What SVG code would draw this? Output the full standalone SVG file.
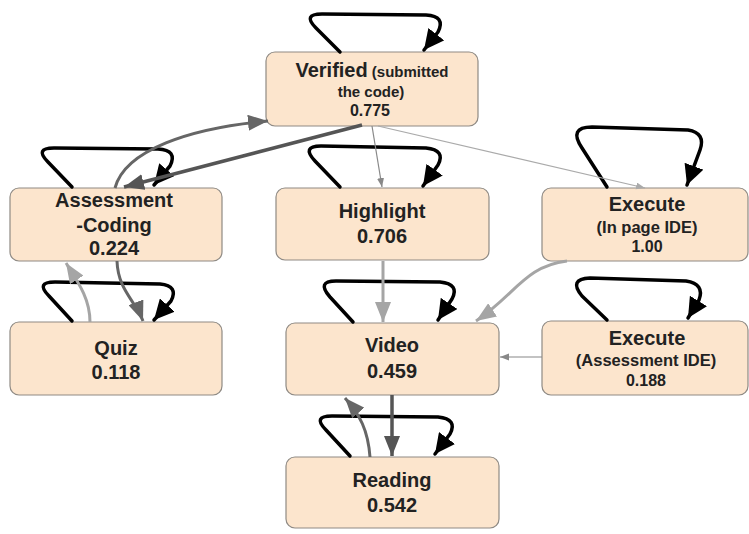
<svg xmlns="http://www.w3.org/2000/svg" width="749" height="534" viewBox="0 0 749 534">
<style>
.box{fill:#fce5cd;stroke:#8f8a84;stroke-width:1.2}
.t{font-family:"Liberation Sans",Arial,sans-serif;font-weight:bold;fill:#222;text-anchor:middle}
.big{font-size:20px}
.sm{font-size:15px}
.md{font-size:16px}
.loop{fill:none;stroke:#000;stroke-width:3.5;stroke-linejoin:round;stroke-linecap:round;marker-end:url(#mk)}
.e{fill:none}
</style>
<defs>
<marker id="mk" markerUnits="userSpaceOnUse" markerWidth="22" markerHeight="20" refX="20" refY="10" orient="auto"><path d="M0,0 L20,10 L0,20 z" fill="#000"/></marker>
<marker id="md" markerUnits="userSpaceOnUse" markerWidth="22" markerHeight="16" refX="20" refY="8" orient="auto"><path d="M0,0 L20,8 L0,16 z" fill="#555"/></marker>
<marker id="mg" markerUnits="userSpaceOnUse" markerWidth="22" markerHeight="16" refX="20" refY="8" orient="auto"><path d="M0,0 L20,8 L0,16 z" fill="#666"/></marker>
<marker id="ml" markerUnits="userSpaceOnUse" markerWidth="22" markerHeight="16" refX="20" refY="8" orient="auto"><path d="M0,0 L20,8 L0,16 z" fill="#a5a5a5"/></marker>
<marker id="mt" markerUnits="userSpaceOnUse" markerWidth="10" markerHeight="8" refX="9" refY="3.5" orient="auto"><path d="M0,0 L9,3.5 L0,7 z" fill="#888"/></marker>
<marker id="mtl" markerUnits="userSpaceOnUse" markerWidth="10" markerHeight="8" refX="9" refY="3.5" orient="auto"><path d="M0,0 L9,3.5 L0,7 z" fill="#aaa"/></marker>
</defs>
<rect width="749" height="534" fill="#fff"/>
<g id="verified"><rect class="box" x="266" y="52" width="212" height="74" rx="9"/>
<text class="t" x="372" y="77"><tspan class="big">Verified</tspan><tspan class="sm"> (submitted</tspan></text>
<text class="t sm" x="371" y="97">the code)</text>
<text class="t md" x="370" y="116">0.775</text></g>
<g id="assessment"><rect class="box" x="10" y="188" width="212" height="73" rx="9"/>
<text class="t big" x="114" y="207">Assessment</text>
<text class="t big" x="114" y="232">-Coding</text>
<text class="t big" x="114" y="255">0.224</text></g>
<g id="quiz"><rect class="box" x="10" y="322" width="212" height="73" rx="9"/>
<text class="t big" x="116" y="355">Quiz</text>
<text class="t big" x="116" y="379">0.118</text></g>
<g id="highlight"><rect class="box" x="276" y="188" width="213" height="72" rx="9"/>
<text class="t big" x="382" y="218">Highlight</text>
<text class="t big" x="382" y="243">0.706</text></g>
<g id="execute-page"><rect class="box" x="542" y="188" width="206" height="73" rx="9"/>
<text class="t big" x="647" y="211">Execute</text>
<text class="t" x="647" y="233" font-size="16.5">(In page IDE)</text>
<text class="t md" x="647" y="252">1.00</text></g>
<g id="execute-assess"><rect class="box" x="542" y="321" width="206" height="74" rx="9"/>
<text class="t big" x="647" y="345">Execute</text>
<text class="t" x="646" y="366" font-size="16.5">(Assessment IDE)</text>
<text class="t md" x="646" y="386">0.188</text></g>
<g id="video"><rect class="box" x="286" y="323" width="213" height="72" rx="9"/>
<text class="t big" x="392" y="352">Video</text>
<text class="t big" x="392" y="378">0.459</text></g>
<g id="reading"><rect class="box" x="286" y="457" width="213" height="71" rx="9"/>
<text class="t big" x="392" y="487">Reading</text>
<text class="t big" x="392" y="512">0.542</text></g>
<g id="connectors">
<path class="loop" d="M340,52 L316,28 Q302,14 322,14 L426,15 Q446,16 438,32 L424,50"/>
<path class="loop" d="M72,187 L48,162 Q34,148 54,148 L158,149 Q178,150 170,166 L154,185"/>
<path class="loop" d="M72,321 L49,296 Q35,282 55,282 L160,284 Q179,286 171,301 L154,320"/>
<path class="loop" d="M340,187 L315,161 Q301,146 321,146 L426,148 Q446,150 438,165 L423,186"/>
<path class="loop" d="M607,187 L582,148 Q568,127 592,127 L688,130 Q706,133 700,150 L687,185"/>
<path class="loop" d="M607,320 L582,296 Q568,279 590,278 L686,281 Q705,284 699,300 L688,318"/>
<path class="loop" d="M353,322 L330,297 Q316,281 336,281 L440,282 Q460,284 452,299 L438,320"/>
<path class="loop" d="M350,456 L326,430 Q312,416 332,416 L438,417 Q458,419 450,434 L435,454"/>
<path class="e" d="M115,188 C125,150 190,128 268,121" stroke="#666" stroke-width="3" marker-end="url(#mg)"/>
<path class="e" d="M362,125 L124,187" stroke="#555" stroke-width="3.5" marker-end="url(#md)"/>
<path class="e" d="M372,126 L382,187" stroke="#888" stroke-width="1.2" marker-end="url(#mt)"/>
<path class="e" d="M378,126 L645,188" stroke="#aaa" stroke-width="1.2" marker-end="url(#mtl)"/>
<path class="e" d="M383,261 L383,322" stroke="#a5a5a5" stroke-width="3" marker-end="url(#ml)"/>
<path class="e" d="M567,261 C525,266 515,295 476,321" stroke="#a5a5a5" stroke-width="3" marker-end="url(#ml)"/>
<path class="e" d="M542,357 L500,357" stroke="#888" stroke-width="1.2" marker-end="url(#mt)"/>
<path class="e" d="M392,395 L392,456" stroke="#555" stroke-width="3.5" marker-end="url(#md)"/>
<path class="e" d="M370,457 C368,430 360,415 345,398" stroke="#666" stroke-width="3" marker-end="url(#mg)"/>
<path class="e" d="M117,261 C118,290 135,300 143,321" stroke="#666" stroke-width="3" marker-end="url(#mg)"/>
<path class="e" d="M90,322 C90,300 80,285 66,263" stroke="#a5a5a5" stroke-width="3" marker-end="url(#ml)"/>
</g>
</svg>
